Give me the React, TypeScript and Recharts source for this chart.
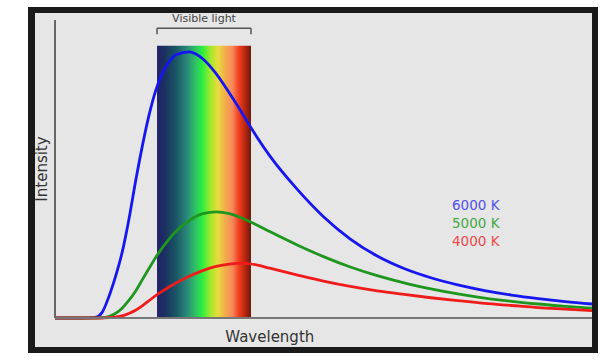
import { Label, Legend, Line, LineChart, ReferenceArea, ReferenceLine, XAxis, YAxis } from "recharts";

// wavelength in nm, intensity in arbitrary units (0-100)
const wavelengths = [
    0, 100, 150, 175, 200, 225, 250, 275, 300, 325, 350, 375, 400, 425, 450, 500, 550, 600, 650, 700, 750,
    800, 900, 1000, 1100, 1200, 1300, 1400, 1500, 1600, 1700, 1800, 1900, 2000,
];
const t6000 = [
    0, 0, 0.2, 1.8, 7.0, 13.8, 22.0, 33.0, 45.8, 57.6, 68.0, 76.3, 82.2, 86.0, 88.3, 89.3, 87.0, 82.0, 75.4,
    68.3, 61.0, 54.4, 43.4, 34.0, 26.5, 20.8, 16.6, 13.5, 11.1, 9.2, 7.7, 6.5, 5.5, 4.7,
];
const t5000 = [
    0, 0, 0, 0.1, 0.5, 1.5, 3.3, 5.9, 9.0, 12.8, 16.6, 20.3, 23.6, 26.5, 29.0, 32.7, 35.0, 35.6, 35.0, 33.4,
    31.3, 29.0, 24.6, 20.6, 17.1, 14.2, 11.8, 9.8, 8.1, 6.7, 5.6, 4.7, 3.9, 3.3,
];
const t4000 = [
    0, 0, 0, 0, 0.1, 0.3, 0.7, 1.5, 2.6, 4.1, 5.8, 7.5, 9.0, 10.4, 11.7, 14.0, 15.9, 17.3, 18.1, 18.4, 17.8,
    16.7, 14.5, 12.4, 10.6, 9.1, 7.9, 6.8, 5.8, 4.9, 4.2, 3.5, 3.0, 2.5,
];

const visibleFrom = 380;
const visibleTo = 730;

const series = [
    { key: "t6000", name: "6000 K", line: "#1616f0", text: "#5050ee" },
    { key: "t5000", name: "5000 K", line: "#1f961f", text: "#43a843" },
    { key: "t4000", name: "4000 K", line: "#f01c1c", text: "#ee4848" },
];

const spectrumStops: [number, string][] = [
    [0, "#23206a"],
    [0.08, "#1b3060"],
    [0.2, "#1a5565"],
    [0.32, "#2a8a7a"],
    [0.42, "#2ec860"],
    [0.48, "#28ee40"],
    [0.57, "#a4e82c"],
    [0.65, "#e8dc3c"],
    [0.72, "#f2b048"],
    [0.8, "#f88a5c"],
    [0.87, "#f04020"],
    [0.93, "#c02810"],
    [1, "#6a1a0c"],
];

const data = wavelengths.map((w, i) => ({
    wavelength: w,
    t6000: t6000[i],
    t5000: t5000[i],
    t4000: t4000[i],
}));

function LegendText() {
    return (
        <div style={{ fontSize: 13.5, lineHeight: "18px" }}>
            {series.map((s) => (
                <div key={s.key} style={{ color: s.text }}>
                    {s.name}
                </div>
            ))}
        </div>
    );
}

export default function App() {
    return (
        <div
            style={{
                position: "absolute",
                left: 0,
                top: 0,
                width: 606,
                height: 361,
                background: "#fff",
                fontFamily: "'DejaVu Sans', sans-serif",
            }}
        >
            <svg width={0} height={0} style={{ position: "absolute" }}>
                <defs>
                    <linearGradient id="spectrum" x1="0" y1="0" x2="1" y2="0">
                        {spectrumStops.map(([o, c]) => (
                            <stop key={o} offset={o} stopColor={c} />
                        ))}
                    </linearGradient>
                </defs>
            </svg>
            <div style={{ position: "absolute", left: 28, top: 7, width: 570, height: 346, background: "#1a1a1a" }} />
            <div style={{ position: "absolute", left: 35, top: 13, width: 557, height: 334, background: "#e6e6e6" }} />
            <div style={{ position: "absolute", left: 0, top: 0 }}>
                <LineChart width={606} height={361} data={data} margin={{ top: 20, right: 14, bottom: 42, left: 54 }}>
                    <XAxis
                        dataKey="wavelength"
                        type="number"
                        domain={[0, 2000]}
                        height={1}
                        tick={false}
                        tickLine={false}
                        axisLine={{ stroke: "#777", strokeWidth: 2 }}
                    >
                        <Label
                            content={({ viewBox }: any) => (
                                <text
                                    x={viewBox.x + viewBox.width * 0.4}
                                    y={viewBox.y + 24}
                                    textAnchor="middle"
                                    fontSize={15}
                                    fill="#333"
                                >
                                    Wavelength
                                </text>
                            )}
                        />
                    </XAxis>
                    <YAxis
                        type="number"
                        domain={[0, 100]}
                        width={1}
                        tick={false}
                        tickLine={false}
                        axisLine={{ stroke: "#666", strokeWidth: 2 }}
                    >
                        <Label
                            content={({ viewBox }: any) => {
                                const cx = viewBox.x + viewBox.width - 13;
                                const cy = viewBox.y + viewBox.height / 2;
                                return (
                                    <text
                                        x={cx}
                                        y={cy}
                                        transform={`rotate(-90, ${cx}, ${cy})`}
                                        textAnchor="middle"
                                        dominantBaseline="central"
                                        fontSize={15}
                                        fill="#333"
                                    >
                                        Intensity
                                    </text>
                                );
                            }}
                        />
                    </YAxis>
                    <ReferenceArea
                        x1={visibleFrom}
                        x2={visibleTo}
                        y1={0}
                        y2={91.4}
                        fill="url(#spectrum)"
                        fillOpacity={1}
                        stroke="none"
                    />
                    <ReferenceLine
                        segment={[
                            { x: visibleFrom, y: 97.2 },
                            { x: visibleTo, y: 97.2 },
                        ]}
                        stroke="#555"
                        strokeWidth={1.5}
                        label={{ value: "Visible light", position: "top", offset: 6, fontSize: 11, fill: "#444" }}
                    />
                    <ReferenceLine
                        segment={[
                            { x: visibleFrom, y: 97.2 },
                            { x: visibleFrom, y: 95.2 },
                        ]}
                        stroke="#555"
                        strokeWidth={1.5}
                    />
                    <ReferenceLine
                        segment={[
                            { x: visibleTo, y: 97.2 },
                            { x: visibleTo, y: 95.2 },
                        ]}
                        stroke="#555"
                        strokeWidth={1.5}
                    />
                    {series.map((s) => (
                        <Line
                            key={s.key}
                            type="monotone"
                            dataKey={s.key}
                            name={s.name}
                            stroke={s.line}
                            strokeWidth={2.8}
                            dot={false}
                            activeDot={false}
                            isAnimationActive={false}
                        />
                    ))}
                    <Legend
                        layout="vertical"
                        align="center"
                        verticalAlign="middle"
                        content={() => <LegendText />}
                        wrapperStyle={{ left: 452, top: 196, width: 60 }}
                    />
                </LineChart>
            </div>
        </div>
    );
}
